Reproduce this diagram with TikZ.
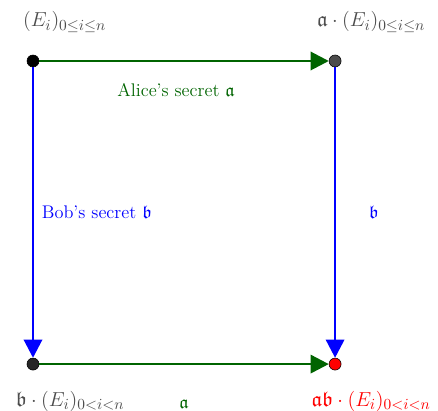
\documentclass[tikz,border=0pt]{standalone}
\usepackage{amsmath}
\usepackage{amssymb}
\usepackage{tikz}
\usetikzlibrary{arrows.meta, positioning}

\definecolor{alicegreen}{RGB}{0,100,0}

\begin{document}
\begin{tikzpicture}[
    x=0.025cm, y=-0.025cm,
    >={Triangle[length=13pt, width=13pt]}, % big triangular tips
    every node/.style={font=\fontsize{13}{16}\selectfont},
    % the curves as dots
    curvedot/.style={circle, draw=black, thin, minimum size=0.3cm, inner sep=0pt},
    % labels of the curves
    curvelabel/.style={text=black!70, font=\fontsize{15}{18}\selectfont},
    % the two isogeny walks
    alicewalk/.style={->, line width=2pt, alicegreen},
    bobwalk/.style={->, line width=2pt, blue}
]
\useasboundingbox (0,0) rectangle (438,411);

% 1. curves
\node [curvedot, fill=black] (E) at (33,61) {};
\node [curvedot, fill=black!70, on grid, right=7.55cm of E] (aE) {};
\node [curvedot, fill=black!85, on grid, below=7.575cm of E] (bE) {};
\node [curvedot, fill=red, on grid, right=7.55cm of bE] (abE) {};

% labels
\node [curvelabel, on grid, above right=0.975cm and 0.79cm of E] (E_label) {$(E_i)_{0\le i\le n}$};
\node [curvelabel, on grid, above right=0.975cm and 0.9cm of aE] (aE_label) {$\mathfrak{a}\cdot(E_i)_{0\le i\le n}$};
\node [curvelabel, on grid, below right=0.93cm and 0.925cm of bE] (bE_label) {$\mathfrak{b}\cdot(E_i)_{0<i<n}$};
\node [curvelabel, text=red, on grid, below right=0.93cm and 0.9cm of abE] (abE_label) {$\mathfrak{a}\mathfrak{b}\cdot(E_i)_{0<i<n}$};

% 2. walks
\draw [alicewalk] (E) -- node[below=0.4cm, xshift=-0.2cm] {Alice's secret $\mathfrak{a}$} (aE);
\draw [alicewalk] (bE) -- node[below=0.75cm] {$\mathfrak{a}$} (abE);
\draw [bobwalk] (E) -- node[right=2pt] {Bob's secret $\mathfrak{b}$} (bE);
\draw [bobwalk] (aE) -- node[right=0.7cm] {$\mathfrak{b}$} (abE);

\end{tikzpicture}
\end{document}
